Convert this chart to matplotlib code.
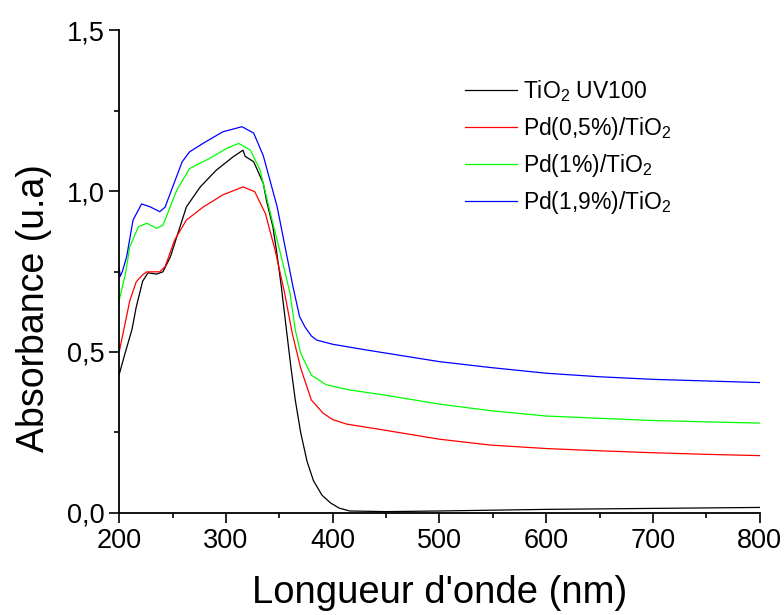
import matplotlib
matplotlib.use('Agg')
import matplotlib.pyplot as plt
from matplotlib.ticker import MultipleLocator

plt.rcParams['font.family'] = ['Liberation Sans', 'DejaVu Sans']
plt.rcParams['mathtext.default'] = 'regular'

# TiO2 UV100
wl_tio2 = [200, 205, 212, 216, 222, 227, 235, 241, 248, 254, 263, 276, 291, 307, 316, 318,
           326, 335, 338, 344, 348, 352, 357, 361, 365, 370, 376, 382, 390, 398, 406, 416,
           450, 500, 600, 700, 800]
abs_tio2 = [0.43, 0.49, 0.57, 0.64, 0.72, 0.746, 0.742, 0.749, 0.796, 0.858, 0.951, 1.013,
            1.065, 1.107, 1.127, 1.108, 1.091, 1.024, 0.97, 0.889, 0.80, 0.70, 0.56, 0.45,
            0.35, 0.25, 0.16, 0.10, 0.055, 0.031, 0.015, 0.006, 0.004, 0.006, 0.011, 0.014,
            0.017]

# Pd(0,5%)/TiO2
wl_pd05 = [200, 205, 210, 216, 222, 226, 238, 243, 252, 263, 279, 297, 316, 327, 337, 346,
           355, 362, 370, 380, 391, 400, 413, 447, 500, 547, 600, 650, 700, 750, 800]
abs_pd05 = [0.50, 0.58, 0.66, 0.718, 0.74, 0.749, 0.749, 0.765, 0.848, 0.91, 0.951, 0.988,
            1.013, 0.998, 0.93, 0.817, 0.683, 0.56, 0.45, 0.351, 0.31, 0.29, 0.276, 0.258,
            0.229, 0.211, 0.20, 0.193, 0.187, 0.182, 0.178]

# Pd(1%)/TiO2
wl_pd1 = [200, 206, 210, 218, 226, 235, 241, 254, 266, 285, 301, 312, 323, 332, 341, 351,
          360, 365, 370, 380, 394, 416, 447, 500, 547, 600, 650, 700, 750, 800]
abs_pd1 = [0.66, 0.745, 0.827, 0.889, 0.90, 0.884, 0.894, 1.003, 1.07, 1.102, 1.133, 1.148,
           1.127, 1.065, 0.94, 0.807, 0.683, 0.568, 0.496, 0.428, 0.398, 0.382, 0.367, 0.338,
           0.318, 0.301, 0.294, 0.287, 0.283, 0.279]

# Pd(1,9%)/TiO2
wl_pd19 = [200, 201, 203, 207, 213, 221, 229, 238, 243, 259, 266, 279, 297, 315, 326, 335,
           348, 357, 363, 369, 374, 380, 385, 400, 432, 500, 547, 600, 650, 700, 750, 800]
abs_pd19 = [0.76, 0.735, 0.75, 0.796, 0.91, 0.96, 0.951, 0.936, 0.95, 1.091, 1.122, 1.149,
            1.184, 1.20, 1.18, 1.11, 0.951, 0.80, 0.70, 0.61, 0.578, 0.55, 0.537, 0.524,
            0.506, 0.47, 0.452, 0.434, 0.423, 0.415, 0.41, 0.405]

labels = ['TiO$_2$ UV100', 'Pd(0,5%)/TiO$_2$', 'Pd(1%)/TiO$_2$', 'Pd(1,9%)/TiO$_2$']
colors = ['#000000', '#FF0000', '#00FF00', '#0000FF']

x_ticks = [200, 300, 400, 500, 600, 700, 800]
y_ticks = [0.0, 0.5, 1.0, 1.5]
y_tick_labels = ['0,0', '0,5', '1,0', '1,5']

fig = plt.figure(figsize=(7.84, 6.15), dpi=100)
ax = fig.add_subplot(111)
fig.subplots_adjust(left=0.152, right=0.969, top=0.951, bottom=0.166)

series = [(wl_tio2, abs_tio2), (wl_pd05, abs_pd05), (wl_pd1, abs_pd1), (wl_pd19, abs_pd19)]
for (x, y), c, lab in zip(series, colors, labels):
    ax.plot(x, y, color=c, lw=0.9, label=lab)

ax.set_xlim(200, 800)
ax.set_ylim(0, 1.5)
ax.set_xticks(x_ticks)
ax.set_xticklabels([str(t) for t in x_ticks])
ax.set_yticks(y_ticks)
ax.set_yticklabels(y_tick_labels)
ax.xaxis.set_minor_locator(MultipleLocator(50))
ax.yaxis.set_minor_locator(MultipleLocator(0.25))

for s in ['top', 'right']:
    ax.spines[s].set_visible(False)
for s in ['left', 'bottom']:
    ax.spines[s].set_linewidth(1.3)
ax.tick_params(which='major', direction='out', length=7.2, width=1.2, labelsize=19.5, pad=3.5)
ax.tick_params(which='minor', direction='out', length=3.6, width=1.2)

ax.set_xlabel("Longueur d'onde (nm)", fontsize=27.5)
ax.set_ylabel("Absorbance (u.a)", fontsize=27)
ax.xaxis.set_label_coords(0.5, -0.128)
ax.yaxis.set_label_coords(-0.105, 0.424)

ax.legend(loc='upper left', bbox_to_anchor=(0.526, 0.919), frameon=False, fontsize=16.5,
          handlelength=2.27, handletextpad=0.26, labelspacing=0.45, borderaxespad=0)

fig.savefig('out.png', dpi=100)
